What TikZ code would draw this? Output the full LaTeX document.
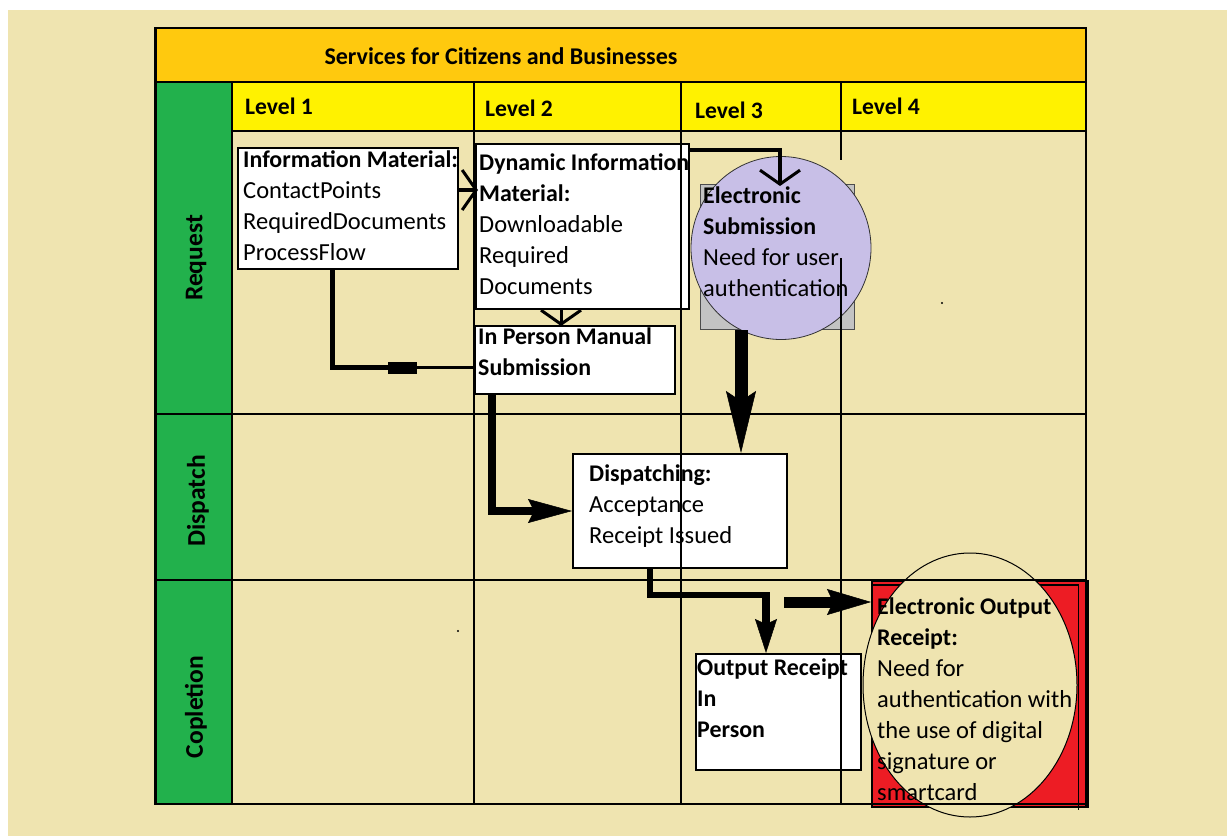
\documentclass[tikz,border=0pt]{standalone}
\usepackage{fontspec}
\setmainfont{Carlito}
\usetikzlibrary{arrows.meta,calc,shapes.geometric}
\definecolor{bgtan}{HTML}{EFE4B0}
\definecolor{orng}{HTML}{FFC90E}
\definecolor{ylw}{HTML}{FFF200}
\definecolor{grn}{HTML}{22B14C}
\definecolor{lav}{HTML}{C8BFE7}
\definecolor{gry}{HTML}{C3C3C3}
\definecolor{redd}{HTML}{ED1C24}
\newcommand{\bodyfnt}{\fontsize{24.5}{31}\selectfont}
\newcommand{\bldfnt}{\fontsize{23.9}{31}\selectfont\bfseries}
\newcommand{\bx}[1]{{\bldfnt #1}}
\begin{document}
\begin{tikzpicture}[x=1pt,y=-1pt,
  box/.style={draw=black, fill=white, line width=1.5pt, anchor=north west, inner sep=0pt},
  tx/.style={anchor=north west, inner sep=0pt, align=left, font=\bodyfnt, text=black},
  hdr/.style={anchor=base west, inner sep=0pt, font=\fontsize{23.6}{31}\selectfont\bfseries, text=black},
  lane/.style={rotate=90, inner sep=0pt, font=\fontsize{25.5}{31}\selectfont\bfseries, text=black},
  gridl/.style={line width=1.3pt, black},
  barb/.style={-{Straight Barb[length=14pt,width=40pt,line width=3pt]}},
]
\useasboundingbox (0,0) rectangle (1227,836);
\fill[white] (0,0) rectangle (1227,836);
\fill[bgtan] (8,10) rectangle (1227,836);

% table fills
\fill[orng] (155,28) rectangle (1086,82);
\fill[grn] (155,82) rectangle (232,803);
\fill[ylw] (232,82) rectangle (1086,131);

% headings
\node[anchor=base, inner sep=0pt, font=\fontsize{24}{31}\selectfont\bfseries] (title) at (501,64) {Services for Citizens and Businesses};
\node[hdr] (l1) at (245,114) {Level 1};
\node[hdr] (l2) at (485,116) {Level 2};
\node[hdr] (l3) at (695,118) {Level 3};
\node[hdr] (l4) at (852,114) {Level 4};
\node[lane] (req) at (196,258) {Request};
\node[lane] (dsp) at (198,501) {Dispatch};
\node[lane] (cpl) at (196,707) {Copletion};

% boxes
\node[box, minimum width=220pt, minimum height=121pt] (info) at (237,147) {};
\node[box, minimum width=213pt, minimum height=165pt] (dyn) at (475,143) {};
\node[box, minimum width=200pt, minimum height=68pt] (inp) at (474,325) {};
\node[box, minimum width=214pt, minimum height=114pt] (disp) at (572,453) {};
\node[box, minimum width=165pt, minimum height=116pt] (out) at (695,653) {};
\node[box, fill=gry, draw=black!70, line width=1pt, minimum width=154pt, minimum height=145pt] (esub) at (700,184) {};
\node[ellipse, fill=lav, draw=black!80, line width=0.8pt, inner sep=0pt, minimum width=180pt, minimum height=183pt] (escirc) at (781,248) {};
\node[box, fill=redd, minimum width=216pt, minimum height=226pt] (eout) at (871,580) {};
\draw[line width=1.5pt] ($(eout.north west)+(0,5)$) -- ($(eout.north east)+(-10,5)$) -- ($(eout.south east)+(-10,2)$);
\node[ellipse, fill=bgtan, draw=black, line width=1pt, inner sep=0pt, minimum width=214pt, minimum height=264pt] (eoutell) at (970,685) {};

% texts
\node[tx] (tinfo) at (243,146) {\strut\bx{Information Material:}\\ContactPoints\\RequiredDocuments\\ProcessFlow};
\node[tx] (tdyn) at (479,149) {\strut\bx{Dynamic Information}\\\bx{Material:}\\Downloadable\\Required\\Documents};
\node[tx] (tinp) at (478,323) {\strut\bx{In Person Manual}\\\bx{Submission}};
\node[tx] (tesub) at (703,182) {\strut\bx{Electronic}\\\bx{Submission}\\Need for user\\authentication};
\node[tx] (tdisp) at (589,460) {\strut\bx{Dispatching:}\\Acceptance\\Receipt Issued};
\node[tx] (tout) at (697,654) {\strut\bx{Output Receipt}\\\bx{In}\\\bx{Person}};
\node[tx] (teout) at (877,593) {\strut\bx{Electronic Output}\\\bx{Receipt:}\\Need for\\authentication with\\the use of digital\\signature or\\smartcard};

% grid lines
\draw[gridl] (155,82) -- (1086,82);
\draw[gridl] (232,131) -- (1086,131);
\draw[gridl] (155,414) -- (1086,414);
\draw[gridl] (155,580) -- (1086,580);
\draw[gridl] (155,804) -- (1086,804);
\draw[gridl] (232,82) -- (232,803);
\draw[gridl] (474,82) -- (474,803);
\draw[gridl] (681,82) -- (681,803);
\draw[gridl] (841,82) -- (841,160);
\draw[gridl] (841,258) -- (841,803);
\draw[gridl] (1086,28) -- (1086,806);
\draw[line width=2pt] (154,28) -- (1087,28);
\draw[line width=3pt] (155,27) -- (155,805);

% connectors
\draw[line width=4pt, barb] ($(info.north east)+(0,43)$) -- ($(dyn.north west)+(3,47)$);
\coordinate (b1) at ($(info.south west)+(95,0)$);
\coordinate (b2) at ($(inp.south west)+(-86,-27)$);
\coordinate (b3) at ($(inp.south west)+(-57,-27)$);
\draw[line width=5pt] (b1) |- (b2);
\draw[line width=12pt] (b2) -- (b3);
\draw[line width=3pt] (b3) -- ($(inp.south west)+(0,-27)$);
\draw[line width=3pt, barb] ($(dyn.south west)+(86,0)$) -- ($(inp.north west)+(87,1)$);
\draw[line width=4pt, barb] ($(dyn.north east)+(0,7)$) -| ($(esub.north west)+(80,2)$);
\draw[line width=13pt, -{Stealth[length=62pt,width=30pt,inset=10pt,line width=0.5pt]}] ($(esub.south west)+(41,0)$) -- ($(disp.north west)+(169,0)$);
\draw[line width=8pt, -{Stealth[length=44pt,width=24pt,inset=6pt,line width=0.5pt]}] ($(inp.south west)+(18,0)$) |- ($(disp.north west)+(0,58)$);
\coordinate (g1) at ($(disp.south west)+(78,0)$);
\coordinate (g2) at ($(out.north west)+(75,-58)$);
\draw[line width=6pt] (g1) |- (g2);
\draw[line width=8pt, -{Stealth[length=34pt,width=22pt,inset=5pt,line width=0.5pt]}] ($(out.north west)+(71,-60)$) -- ($(out.north west)+(71,0)$);
\draw[line width=11pt, -{Stealth[length=44pt,width=26pt,inset=6pt,line width=0.5pt]}] ($(eout.north west)+(-87,22)$) -- ($(eout.north west)+(0,22)$);

% stray dots
\fill (942,303) circle (1.2pt);
\fill (458,631) circle (1.2pt);
\end{tikzpicture}
\end{document}
